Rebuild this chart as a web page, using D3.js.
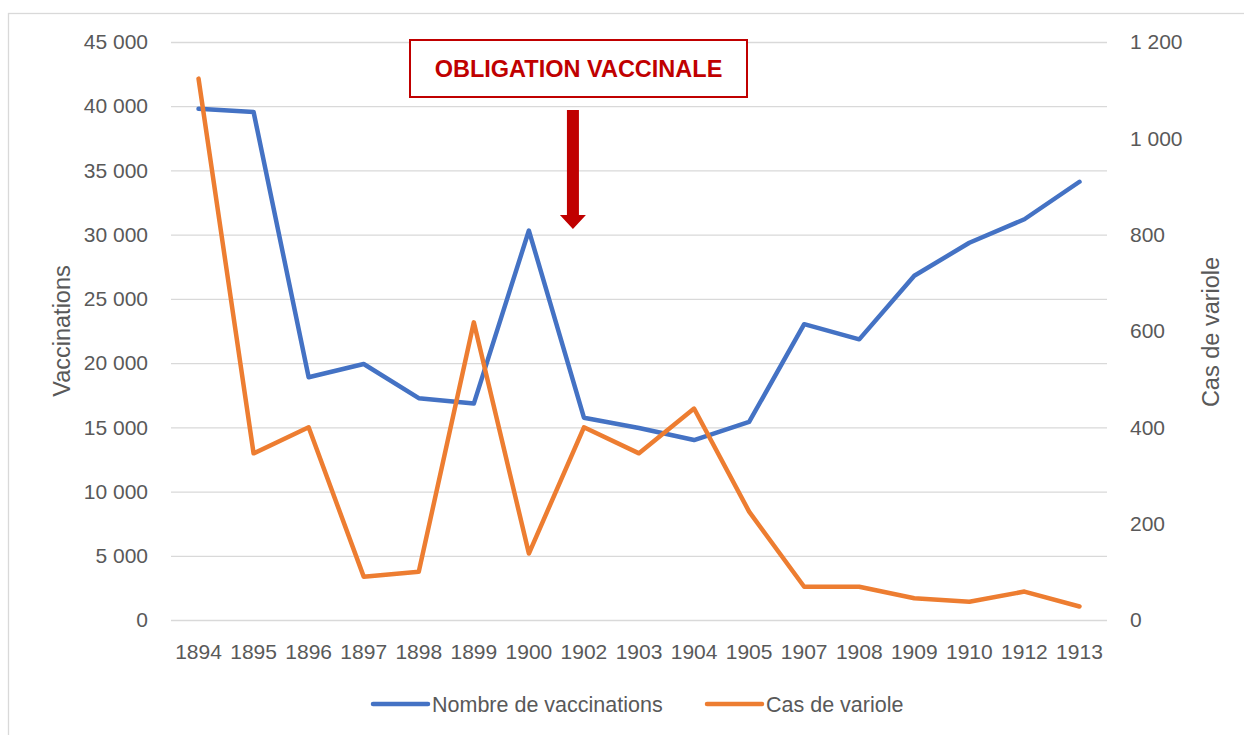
<!DOCTYPE html>
<html>
<head>
<meta charset="utf-8">
<script src="https://cdn.jsdelivr.net/npm/d3@7"></script>
<style>
  body { margin: 0; background: #fff; }
  text { font-family: "Liberation Sans", Arial, sans-serif; fill: #595959; }
</style>
</head>
<body>
<div class="chart"></div>
<script>
// data
let years = ["1894","1895","1896","1897","1898","1899","1900","1902","1903","1904","1905","1907","1908","1909","1910","1912","1913"];
let vaccinations = [39800, 39550, 18900, 19930, 17270, 16850, 30320, 15750, 14950, 14010, 15420, 23030, 21850, 26800, 29370, 31200, 34120];
let casVariole = [1124, 346, 400, 90, 100, 618, 138, 400, 346, 439, 225, 69, 69, 45, 38, 59, 28];
let leftTicks = [0, 5000, 10000, 15000, 20000, 25000, 30000, 35000, 40000, 45000];
let rightTicks = [0, 200, 400, 600, 800, 1000, 1200];
let seriesNames = ["Nombre de vaccinations", "Cas de variole"];
let annotation = "OBLIGATION VACCINALE";

let width = 1244, height = 735;
let plot = {left: 171, right: 1107, top: 42, bottom: 620};
let blue = "#4472C4", orange = "#ED7D31", red = "#C00000", grid = "#d9d9d9";

let fr = d3.formatLocale({decimal: ",", thousands: " ", grouping: [3], currency: ["", " €"]});
let fmt = fr.format(",d");

const svg = d3.select(".chart")
  .append("svg")
  .attr("width", width)
  .attr("height", height);

// chart frame
svg.append("rect")
  .attr("x", 8.5).attr("y", 13.5)
  .attr("width", 1400).attr("height", 900)
  .attr("fill", "none")
  .attr("stroke", grid)
  .attr("stroke-width", 1.3);

let x = d3.scaleBand()
  .domain(years)
  .range([plot.left, plot.right]);

let yL = d3.scaleLinear().domain([0, 45000]).range([plot.bottom, plot.top]);
let yR = d3.scaleLinear().domain([0, 1200]).range([plot.bottom, plot.top]);

// left axis + gridlines
let gl = svg.append("g")
  .attr("transform", "translate(" + plot.left + ",0)")
  .call(d3.axisLeft(yL).tickValues(leftTicks).tickFormat(fmt)
    .tickSize(-(plot.right - plot.left)).tickPadding(23));
gl.select(".domain").remove();
gl.selectAll(".tick line").attr("stroke", grid).attr("stroke-width", 1.3);
gl.selectAll(".tick text").attr("font-size", 21).attr("fill", "#595959");

// right axis
let gr = svg.append("g")
  .attr("transform", "translate(" + plot.right + ",0)")
  .call(d3.axisRight(yR).tickValues(rightTicks).tickFormat(fmt)
    .tickSize(0).tickPadding(23));
gr.select(".domain").remove();
gr.selectAll(".tick text").attr("font-size", 21).attr("fill", "#595959");

// bottom axis
let gx = svg.append("g")
  .attr("transform", "translate(0," + plot.bottom + ")")
  .call(d3.axisBottom(x).tickSize(0).tickPadding(24));
gx.select(".domain").remove();
gx.selectAll(".tick text").attr("font-size", 21).attr("fill", "#595959");

// axis titles
svg.append("text")
  .attr("transform", "translate(70,331) rotate(-90)")
  .attr("text-anchor", "middle")
  .attr("font-size", 23.5)
  .text("Vaccinations");

svg.append("text")
  .attr("transform", "translate(1219,332) rotate(-90)")
  .attr("text-anchor", "middle")
  .attr("font-size", 23.5)
  .text("Cas de variole");

// lines
let cx = d => x(d) + x.bandwidth() / 2;

let lineL = d3.line()
  .x((d, i) => cx(years[i]))
  .y(d => yL(d));
let lineR = d3.line()
  .x((d, i) => cx(years[i]))
  .y(d => yR(d));

svg.append("path")
  .datum(vaccinations)
  .attr("d", lineL)
  .attr("fill", "none")
  .attr("stroke", blue)
  .attr("stroke-width", 4.5)
  .attr("stroke-linejoin", "round")
  .attr("stroke-linecap", "round");

svg.append("path")
  .datum(casVariole)
  .attr("d", lineR)
  .attr("fill", "none")
  .attr("stroke", orange)
  .attr("stroke-width", 4.5)
  .attr("stroke-linejoin", "round")
  .attr("stroke-linecap", "round");

// annotation box
svg.append("rect")
  .attr("x", 410).attr("y", 40)
  .attr("width", 337).attr("height", 57)
  .attr("fill", "#fff")
  .attr("stroke", red)
  .attr("stroke-width", 2);

svg.append("text")
  .attr("x", 578.5).attr("y", 77)
  .attr("text-anchor", "middle")
  .attr("font-size", 23.5)
  .attr("font-weight", "bold")
  .style("fill", red)
  .text(annotation);

// arrow between 1900 and 1902
let ax = cx("1900") + x.step() * 0.8;
svg.append("path")
  .attr("d", "M" + (ax - 6) + ",110 L" + (ax + 6) + ",110 L" + (ax + 6) + ",215 L" + (ax + 13) + ",215 L" + ax + ",229 L" + (ax - 13) + ",215 L" + (ax - 6) + ",215 Z")
  .attr("fill", red);

// legend
let legendX = [373, 707];
let legendCol = [blue, orange];
let lg = svg.selectAll(".legend")
  .data(seriesNames)
  .enter()
  .append("g")
  .attr("class", "legend")
  .attr("transform", (d, i) => "translate(" + legendX[i] + ",704)");

lg.append("line")
  .attr("x1", 0).attr("x2", 55)
  .attr("stroke", (d, i) => legendCol[i])
  .attr("stroke-width", 4.5)
  .attr("stroke-linecap", "round");

lg.append("text")
  .attr("x", 59)
  .attr("dy", "0.35em")
  .attr("font-size", 21.5)
  .text(d => d);
</script>
</body>
</html>
